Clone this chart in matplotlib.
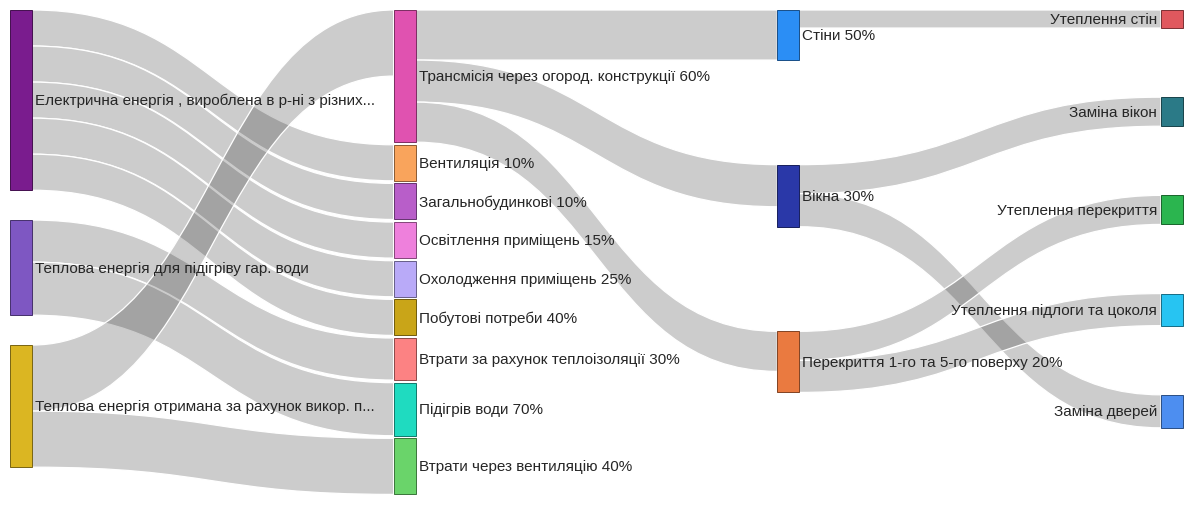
import matplotlib.pyplot as plt
from matplotlib.path import Path
from matplotlib.patches import PathPatch, Rectangle
from matplotlib.colors import to_rgb

plt.rcParams['font.family'] = ['Liberation Sans', 'DejaVu Sans']

# nodes in display order (column is derived from the links)
nodes = [
    'Електрична енергія , вироблена в р-ні з різних...',
    'Теплова енергія для підігріву гар. води',
    'Теплова енергія отримана за рахунок викор. п...',
    'Трансмісія через огород. конструкції 60%',
    'Вентиляція 10%',
    'Загальнобудинкові 10%',
    'Освітлення приміщень 15%',
    'Охолодження приміщень 25%',
    'Побутові потреби 40%',
    'Втрати за рахунок теплоізоляції 30%',
    'Підігрів води 70%',
    'Втрати через вентиляцію 40%',
    'Стіни 50%',
    'Вікна 30%',
    'Перекриття 1-го та 5-го поверху 20%',
    'Утеплення стін',
    'Заміна вікон',
    'Утеплення перекриття',
    'Утеплення підлоги та цоколя',
    'Заміна дверей',
]
node_colors = [
    '#7a1c8e', '#7e57c2', '#dbb622',
    '#e052b0', '#f9a45c', '#b85ec9', '#ee80dc', '#b9aaf8', '#c9a518',
    '#fc8283', '#1fdbc0', '#6ad46a',
    '#2b8ef5', '#2a38a8', '#ea7a40',
    '#e0585e', '#2b7a87', '#2bb54f', '#27c4f2', '#4d8ef0',
]

link_src = [nodes[0]] * 5 + [nodes[1]] * 2 + [nodes[2]] * 2 + [nodes[3]] * 3 \
    + [nodes[12]] + [nodes[13]] * 2 + [nodes[14]] * 2
link_dst = [nodes[4], nodes[5], nodes[6], nodes[7], nodes[8],
            nodes[9], nodes[10],
            nodes[3], nodes[11],
            nodes[12], nodes[13], nodes[14],
            nodes[15],
            nodes[16], nodes[19],
            nodes[17], nodes[18]]
link_val = [36, 36, 36, 36, 36,
            42, 53,
            66, 56,
            50, 42, 40,
            18,
            29, 33,
            29, 32]

W, H = 1192, 506
top, bottom = 11, 498
left, right = 10, 1183
node_w = 22
pad = 2.6

n = len(nodes)
idx = {name: i for i, name in enumerate(nodes)}
inflow = [0] * n
outflow = [0] * n
for s, t, v in zip(link_src, link_dst, link_val):
    outflow[idx[s]] += v
    inflow[idx[t]] += v
node_val = [max(a, b) for a, b in zip(inflow, outflow)]

# column = longest path from a source
col = [0] * n
for _ in range(n):
    for s, t in zip(link_src, link_dst):
        col[idx[t]] = max(col[idx[t]], col[idx[s]] + 1)
ncol = max(col) + 1
columns = [[i for i in range(n) if col[i] == c] for c in range(ncol)]

span = bottom - top
ky = min((span - len(c) * pad) / sum(node_val[i] for i in c) for c in columns)
node_x = [left + col[i] * (right - left - node_w) / (ncol - 1) for i in range(n)]
node_y = [0] * n
node_h = [v * ky for v in node_val]
for c in columns:
    gap = (span - ky * sum(node_val[i] for i in c)) / len(c)
    y = top
    for i in c:
        node_y[i] = y
        y += node_h[i] + gap

links = [(idx[s], idx[t], v) for s, t, v in zip(link_src, link_dst, link_val)]
src_off = {}
dst_off = {}
for i in range(n):
    outs = sorted([k for k, l in enumerate(links) if l[0] == i], key=lambda k: node_y[links[k][1]])
    off = 0
    for k in outs:
        src_off[k] = off
        off += links[k][2] * ky
    ins = sorted([k for k, l in enumerate(links) if l[1] == i], key=lambda k: node_y[links[k][0]])
    off = 0
    for k in ins:
        dst_off[k] = off
        off += links[k][2] * ky

fig = plt.figure(figsize=(W / 100, H / 100), dpi=100)
ax = fig.add_axes([0, 0, 1, 1])
ax.set_xlim(0, W)
ax.set_ylim(H, 0)
ax.axis('off')

for k, (s, t, v) in enumerate(links):
    h = v * ky
    x0 = node_x[s] + node_w
    x1 = node_x[t]
    xm = (x0 + x1) / 2
    y0 = node_y[s] + src_off[k]
    y1 = node_y[t] + dst_off[k]
    verts = [(x0, y0), (xm, y0), (xm, y1), (x1, y1),
             (x1, y1 + h), (xm, y1 + h), (xm, y0 + h), (x0, y0 + h), (x0, y0)]
    codes = [Path.MOVETO, Path.CURVE4, Path.CURVE4, Path.CURVE4,
             Path.LINETO, Path.CURVE4, Path.CURVE4, Path.CURVE4, Path.CLOSEPOLY]
    ax.add_patch(PathPatch(Path(verts, codes), facecolor=(0, 0, 0, 0.2),
                           edgecolor='white', lw=0.9))

for i in range(n):
    r, g, b = to_rgb(node_colors[i])
    ax.add_patch(Rectangle((node_x[i], node_y[i]), node_w, node_h[i],
                           facecolor=node_colors[i],
                           edgecolor=(r * 0.55, g * 0.55, b * 0.55), lw=0.7))
    cy = node_y[i] + node_h[i] / 2
    if col[i] == ncol - 1:
        ax.text(node_x[i] - 4, cy, nodes[i], ha='right', va='center',
                fontsize=11, color='#262626')
    else:
        ax.text(node_x[i] + node_w + 3, cy, nodes[i], ha='left', va='center',
                fontsize=11, color='#262626')

fig.savefig('out.png', dpi=100, facecolor='white')
